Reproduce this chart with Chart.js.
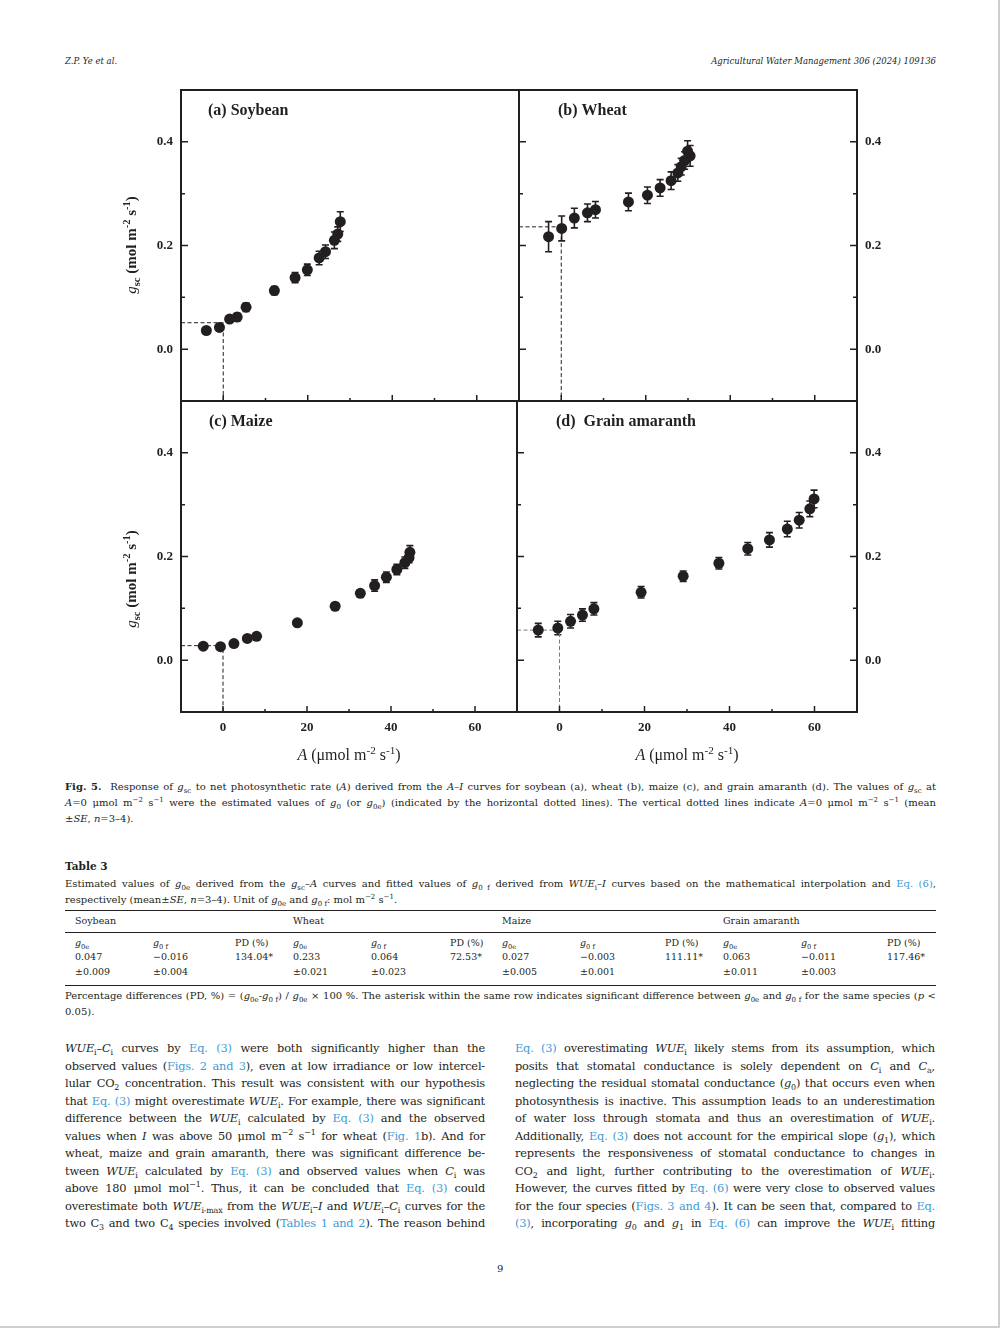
<!DOCTYPE html>
<html>
<head>
<meta charset="utf-8">
<script src="https://cdn.jsdelivr.net/npm/chart.js@4.4.1/dist/chart.umd.min.js"></script>
<style>
  body { margin: 0; background: #fff; }
  #page { position: relative; width: 1003px; height: 1331px; overflow: hidden; font-family: "DejaVu Serif", serif; color: #231f20; }
  #edge { position: absolute; left: 0; top: 0; width: 998px; height: 1326px; border-right: 2px solid #cfcfcf; border-bottom: 2px solid #cfcfcf; }
  .abs { position: absolute; white-space: nowrap; }
  .panel { position: absolute; }
  .panel canvas { display: block; }
  sub, sup { font-size: 0.7em; line-height: 0; }
  a, .lnk { color: #3f9bd6; text-decoration: none; }
  .ytitle { position: absolute; font: bold 15px "Liberation Serif", serif; white-space: nowrap; transform: translate(-50%, -50%) rotate(-90deg); }
  .xtitle { position: absolute; font: 16px "Liberation Serif", serif; white-space: nowrap; transform: translate(-50%, -50%); }
  .col { position: absolute; width: 420px; font-size: 11.4px; letter-spacing: -0.2px; line-height: 17.55px; }
  .col div, .jl { text-align: justify; text-align-last: justify; white-space: nowrap; }
  .cap { position: absolute; left: 65px; width: 871px; font-size: 10px; line-height: 16px; }
  .tbl { position: absolute; font-size: 9.5px; white-space: nowrap; }
  .rule { position: absolute; left: 65px; width: 871px; background: #231f20; }
</style>
</head>
<body>
<div id="page">
  <div id="edge"></div>

  <div class="abs" style="left:65px;top:56px;font-size:8.5px;font-style:italic;">Z.P. Ye et al.</div>
  <div class="abs" style="right:67px;top:56px;font-size:8.5px;font-style:italic;">Agricultural Water Management 306 (2024) 109136</div>

  <div class="panel" style="left:140px;top:80px;"><canvas id="pa" width="390" height="330" style="width:390px;height:330px"></canvas></div>
  <div class="panel" style="left:510px;top:80px;"><canvas id="pb" width="390" height="330" style="width:390px;height:330px"></canvas></div>
  <div class="panel" style="left:140px;top:391px;"><canvas id="pc" width="390" height="351" style="width:390px;height:351px"></canvas></div>
  <div class="panel" style="left:508px;top:391px;"><canvas id="pd" width="392" height="351" style="width:392px;height:351px"></canvas></div>

  <div class="ytitle" style="left:131px;top:245px;"><i style="font-weight:normal">g</i><sub>sc</sub> (mol m<sup>-2</sup> s<sup>-1</sup>)</div>
  <div class="ytitle" style="left:131px;top:579px;"><i style="font-weight:normal">g</i><sub>sc</sub> (mol m<sup>-2</sup> s<sup>-1</sup>)</div>
  <div class="xtitle" style="left:349px;top:755px;"><i>A</i> (μmol m<sup>-2</sup> s<sup>-1</sup>)</div>
  <div class="xtitle" style="left:687px;top:755px;"><i>A</i> (μmol m<sup>-2</sup> s<sup>-1</sup>)</div>

  <div class="cap" style="top:779px;">
    <div class="jl"><b>Fig. 5.</b>&nbsp; Response of <i>g</i><sub>sc</sub> to net photosynthetic rate (<i>A</i>) derived from the <i>A–I</i> curves for soybean (a), wheat (b), maize (c), and grain amaranth (d). The values of <i>g</i><sub>sc</sub> at</div>
    <div class="jl"><i>A</i>=0 μmol m<sup>−2</sup> s<sup>−1</sup> were the estimated values of <i>g</i><sub>0</sub> (or <i>g</i><sub>0e</sub>) (indicated by the horizontal dotted lines). The vertical dotted lines indicate <i>A</i>=0 μmol m<sup>−2</sup> s<sup>−1</sup> (mean</div>
    <div>±<i>SE</i>, <i>n</i>=3–4).</div>
  </div>

  <div class="abs" style="left:65px;top:860px;font-size:10.5px;font-weight:bold;">Table 3</div>
  <div class="cap" style="top:876px;">
    <div class="jl">Estimated values of <i>g</i><sub>0e</sub> derived from the <i>g</i><sub>sc</sub>–<i>A</i> curves and fitted values of <i>g</i><sub>0 f</sub> derived from <i>WUE</i><sub>i</sub>–<i>I</i> curves based on the mathematical interpolation and <span class="lnk">Eq. (6)</span>,</div>
    <div>respectively (mean±<i>SE</i>, <i>n</i>=3–4). Unit of <i>g</i><sub>0e</sub> and <i>g</i><sub>0 f</sub>: mol m<sup>−2</sup> s<sup>−1</sup>.</div>
  </div>
  <div class="rule" style="top:910px;height:1.3px;"></div>
  <div class="rule" style="top:932px;height:0.8px;"></div>
  <div class="rule" style="top:985px;height:1px;"></div>
  <div id="table"></div>
  <div class="cap" style="top:988px;">
    <div class="jl">Percentage differences (PD, %) = (<i>g</i><sub>0e</sub>-<i>g</i><sub>0 f</sub>) / <i>g</i><sub>0e</sub> × 100 %. The asterisk within the same row indicates significant difference between <i>g</i><sub>0e</sub> and <i>g</i><sub>0 f</sub> for the same species (<i>p</i> &lt;</div>
    <div>0.05).</div>
  </div>

  <div class="col" style="left:65px;top:1040px;">
    <div><i>WUE</i><sub>i</sub>–<i>C</i><sub>i</sub> curves by <a>Eq. (3)</a> were both significantly higher than the</div>
    <div>observed values (<a>Figs. 2 and 3</a>), even at low irradiance or low intercel-</div>
    <div>lular CO<sub>2</sub> concentration. This result was consistent with our hypothesis</div>
    <div>that <a>Eq. (3)</a> might overestimate <i>WUE</i><sub>i</sub>. For example, there was significant</div>
    <div>difference between the <i>WUE</i><sub>i</sub> calculated by <a>Eq. (3)</a> and the observed</div>
    <div>values when <i>I</i> was above 50 μmol m<sup>−2</sup> s<sup>−1</sup> for wheat (<a>Fig. 1</a>b). And for</div>
    <div>wheat, maize and grain amaranth, there was significant difference be-</div>
    <div>tween <i>WUE</i><sub>i</sub> calculated by <a>Eq. (3)</a> and observed values when <i>C</i><sub>i</sub> was</div>
    <div>above 180 μmol mol<sup>−1</sup>. Thus, it can be concluded that <a>Eq. (3)</a> could</div>
    <div>overestimate both <i>WUE</i><sub>i-max</sub> from the <i>WUE</i><sub>i</sub>–<i>I</i> and <i>WUE</i><sub>i</sub>–<i>C</i><sub>i</sub> curves for the</div>
    <div>two C<sub>3</sub> and two C<sub>4</sub> species involved (<a>Tables 1 and 2</a>). The reason behind</div>
  </div>
  <div class="col" style="left:515px;top:1040px;">
    <div><a>Eq. (3)</a> overestimating <i>WUE</i><sub>i</sub> likely stems from its assumption, which</div>
    <div>posits that stomatal conductance is solely dependent on <i>C</i><sub>i</sub> and <i>C</i><sub>a</sub>,</div>
    <div>neglecting the residual stomatal conductance (<i>g</i><sub>0</sub>) that occurs even when</div>
    <div>photosynthesis is inactive. This assumption leads to an underestimation</div>
    <div>of water loss through stomata and thus an overestimation of <i>WUE</i><sub>i</sub>.</div>
    <div>Additionally, <a>Eq. (3)</a> does not account for the empirical slope (<i>g</i><sub>1</sub>), which</div>
    <div>represents the responsiveness of stomatal conductance to changes in</div>
    <div>CO<sub>2</sub> and light, further contributing to the overestimation of <i>WUE</i><sub>i</sub>.</div>
    <div>However, the curves fitted by <a>Eq. (6)</a> were very close to observed values</div>
    <div>for the four species (<a>Figs. 3 and 4</a>). It can be seen that, compared to <a>Eq.</a></div>
    <div><a>(3)</a>, incorporating <i>g</i><sub>0</sub> and <i>g</i><sub>1</sub> in <a>Eq. (6)</a> can improve the <i>WUE</i><sub>i</sub> fitting</div>
  </div>

  <div class="abs" style="left:497px;top:1263px;font-size:10px;">9</div>
</div>

<script>
// axis ranges and ticks
const xMin = -10, xMax = 70;
const yMin = -0.1, yMax = 0.5;
const xMajor = [0, 20, 40, 60];
const xMinor = [10, 30, 50];
const yMajor = [0, 0.2, 0.4];
const yMinor = [0.1, 0.3];

// (a) soybean
const soyA = [-4.0, -0.9, 1.5, 3.3, 5.4, 12.1, 17.0, 19.9, 22.7, 24.2, 26.3, 27.1, 27.7];
const soyG = [0.036, 0.042, 0.058, 0.062, 0.081, 0.113, 0.138, 0.153, 0.176, 0.188, 0.210, 0.222, 0.246];
const soyErr = [0.004, 0.005, 0.006, 0.007, 0.008, 0.008, 0.010, 0.011, 0.013, 0.013, 0.016, 0.014, 0.019];
const soyG0 = 0.051;

// (b) wheat
const wheatA = [-3.0, 0.1, 3.1, 6.2, 8.1, 15.9, 20.4, 23.4, 26.0, 27.6, 28.4, 29.2, 29.9, 30.5];
const wheatG = [0.217, 0.233, 0.253, 0.263, 0.269, 0.284, 0.297, 0.311, 0.325, 0.340, 0.352, 0.364, 0.382, 0.373];
const wheatErr = [0.029, 0.024, 0.019, 0.017, 0.016, 0.017, 0.016, 0.016, 0.017, 0.016, 0.016, 0.017, 0.020, 0.020];
const wheatG0 = 0.236;

// (c) maize
const maizeA = [-4.7, -0.6, 2.6, 5.8, 8.0, 17.7, 26.7, 32.7, 36.1, 38.9, 41.4, 43.3, 44.3, 44.5];
const maizeG = [0.027, 0.026, 0.032, 0.042, 0.046, 0.072, 0.104, 0.129, 0.144, 0.160, 0.175, 0.188, 0.198, 0.208];
const maizeErr = [0.004, 0.004, 0.004, 0.004, 0.004, 0.004, 0.005, 0.006, 0.011, 0.010, 0.010, 0.011, 0.010, 0.013];
const maizeG0 = 0.028;

// (d) grain amaranth
const amarA = [-5.0, -0.4, 2.6, 5.4, 8.1, 19.2, 29.1, 37.5, 44.3, 49.4, 53.6, 56.4, 58.9, 59.9];
const amarG = [0.058, 0.062, 0.075, 0.087, 0.099, 0.131, 0.162, 0.187, 0.215, 0.232, 0.253, 0.270, 0.292, 0.311];
const amarErr = [0.013, 0.013, 0.013, 0.012, 0.012, 0.011, 0.010, 0.011, 0.012, 0.014, 0.015, 0.015, 0.015, 0.017];
const amarG0 = 0.058;

// table 3
const species = ["Soybean", "Wheat", "Maize", "Grain amaranth"];
const g0e = ["0.047", "0.233", "0.027", "0.063"];
const g0eSE = ["±0.009", "±0.021", "±0.005", "±0.011"];
const g0f = ["−0.016", "0.064", "−0.003", "−0.011"];
const g0fSE = ["±0.004", "±0.023", "±0.001", "±0.003"];
const pd = ["134.04*", "72.53*", "111.11*", "117.46*"];

const ink = "#231f20";
Chart.defaults.font.family = '"Liberation Serif", serif';
Chart.defaults.color = ink;

// error bars under the markers
const errorBars = {
  id: "errorBars",
  beforeDatasetsDraw(chart) {
    const { ctx, scales: { x, y } } = chart;
    const ds = chart.data.datasets[0];
    ctx.save();
    ctx.strokeStyle = ink;
    ctx.lineWidth = 1.6;
    ds.data.forEach((p, i) => {
      const e = ds.errors[i];
      const px = x.getPixelForValue(p.x);
      const top = y.getPixelForValue(p.y + e);
      const bot = y.getPixelForValue(p.y - e);
      ctx.beginPath();
      ctx.moveTo(px, top); ctx.lineTo(px, bot);
      ctx.moveTo(px - 3.5, top); ctx.lineTo(px + 3.5, top);
      ctx.moveTo(px - 3.5, bot); ctx.lineTo(px + 3.5, bot);
      ctx.stroke();
    });
    ctx.restore();
  }
};

// box, inward ticks and panel label
const frame = {
  id: "frame",
  afterDraw(chart, args, opts) {
    const { ctx, chartArea: a, scales: { x, y } } = chart;
    ctx.save();
    ctx.strokeStyle = ink;
    ctx.lineWidth = 1.5;
    ctx.beginPath();
    xMajor.concat(xMinor).forEach(v => {
      const px = x.getPixelForValue(v);
      const len = xMajor.includes(v) ? 6 : 3;
      ctx.moveTo(px, a.bottom); ctx.lineTo(px, a.bottom - len);
    });
    yMajor.concat(yMinor).forEach(v => {
      const py = y.getPixelForValue(v);
      const len = yMajor.includes(v) ? 7 : 4;
      ctx.moveTo(a.left, py); ctx.lineTo(a.left + len, py);
      if (opts.right) { ctx.moveTo(a.right, py); ctx.lineTo(a.right - len, py); }
    });
    ctx.stroke();
    ctx.lineWidth = 2;
    ctx.strokeRect(a.left, a.top, a.right - a.left, a.bottom - a.top);
    ctx.fillStyle = ink;
    ctx.font = 'bold 16px "Liberation Serif", serif';
    ctx.textBaseline = "middle";
    ctx.fillText(opts.label, a.left + opts.dx, a.top + 21);
    ctx.restore();
  }
};

function makePanel(id, p) {
  const points = p.a.map((v, i) => ({ x: v, y: p.g[i] }));
  return new Chart(document.getElementById(id), {
    type: "scatter",
    data: {
      datasets: [
        {
          data: points,
          errors: p.err,
          pointRadius: 5.5,
          pointHoverRadius: 5.5,
          pointBackgroundColor: ink,
          pointBorderWidth: 0
        },
        {
          data: [{ x: xMin, y: p.g0 }, { x: 0, y: p.g0 }, { x: 0, y: yMin }],
          showLine: true,
          borderColor: p.dash,
          borderWidth: 1,
          borderDash: [4, 2.5],
          pointRadius: 0
        }
      ]
    },
    options: {
      responsive: false,
      animation: false,
      devicePixelRatio: 1,
      layout: { padding: p.pad },
      plugins: {
        legend: { display: false },
        tooltip: { enabled: false },
        frame: { label: p.label, dx: p.dx, right: p.right }
      },
      scales: {
        x: {
          type: "linear",
          min: xMin,
          max: xMax,
          display: p.bottom,
          grid: { display: false, drawTicks: false },
          border: { display: false },
          afterBuildTicks: s => { s.ticks = xMajor.map(v => ({ value: v })); },
          afterFit: s => { s.height = p.bottom ? 30 : 0; s.paddingLeft = 0; s.paddingRight = 0; },
          ticks: { padding: 8, font: { size: 13, weight: "bold" } }
        },
        y: {
          type: "linear",
          min: yMin,
          max: yMax,
          position: p.right ? "right" : "left",
          grid: { display: false, drawTicks: false },
          border: { display: false },
          afterBuildTicks: s => { s.ticks = yMajor.map(v => ({ value: v })); },
          afterFit: s => { s.width = p.right ? 43 : 41; s.paddingTop = 0; s.paddingBottom = 0; },
          ticks: {
            padding: 8,
            font: { size: 13, weight: "bold" },
            callback: v => v.toFixed(1)
          }
        }
      }
    },
    plugins: [errorBars, frame]
  });
}

makePanel("pa", { a: soyA, g: soyG, err: soyErr, g0: soyG0, dash: ink, label: "(a) Soybean", dx: 27,
  right: false, bottom: false, pad: { left: 0, right: 11, top: 10, bottom: 9 } });
makePanel("pb", { a: wheatA, g: wheatG, err: wheatErr, g0: wheatG0, dash: ink, label: "(b) Wheat", dx: 39,
  right: true, bottom: false, pad: { left: 9, right: 0, top: 10, bottom: 9 } });
makePanel("pc", { a: maizeA, g: maizeG, err: maizeErr, g0: maizeG0, dash: ink, label: "(c) Maize", dx: 28,
  right: false, bottom: true, pad: { left: 0, right: 13, top: 10, bottom: 0 } });
makePanel("pd", { a: amarA, g: amarG, err: amarErr, g0: amarG0, dash: "#7a7a7a", label: "(d)  Grain amaranth", dx: 39,
  right: true, bottom: true, pad: { left: 9, right: 0, top: 10, bottom: 0 } });

// table 3 cells
const tbl = document.getElementById("table");
const groupX = [75, 293, 502, 723];
const pdX = [235, 450, 665, 887];
function cell(x, y, html) {
  const d = document.createElement("div");
  d.className = "tbl";
  d.style.left = x + "px";
  d.style.top = (y - 7) + "px";
  d.innerHTML = html;
  tbl.appendChild(d);
}
species.forEach((s, i) => {
  const x0 = groupX[i];
  cell(x0, 922, s);
  cell(x0, 944, "<i>g</i><sub>0e</sub>");
  cell(x0 + 78, 944, "<i>g</i><sub>0 f</sub>");
  cell(pdX[i], 944, "PD (%)");
  cell(x0, 958, g0e[i]);
  cell(x0 + 78, 958, g0f[i]);
  cell(pdX[i], 958, pd[i]);
  cell(x0, 973, g0eSE[i]);
  cell(x0 + 78, 973, g0fSE[i]);
});
</script>
</body>
</html>
